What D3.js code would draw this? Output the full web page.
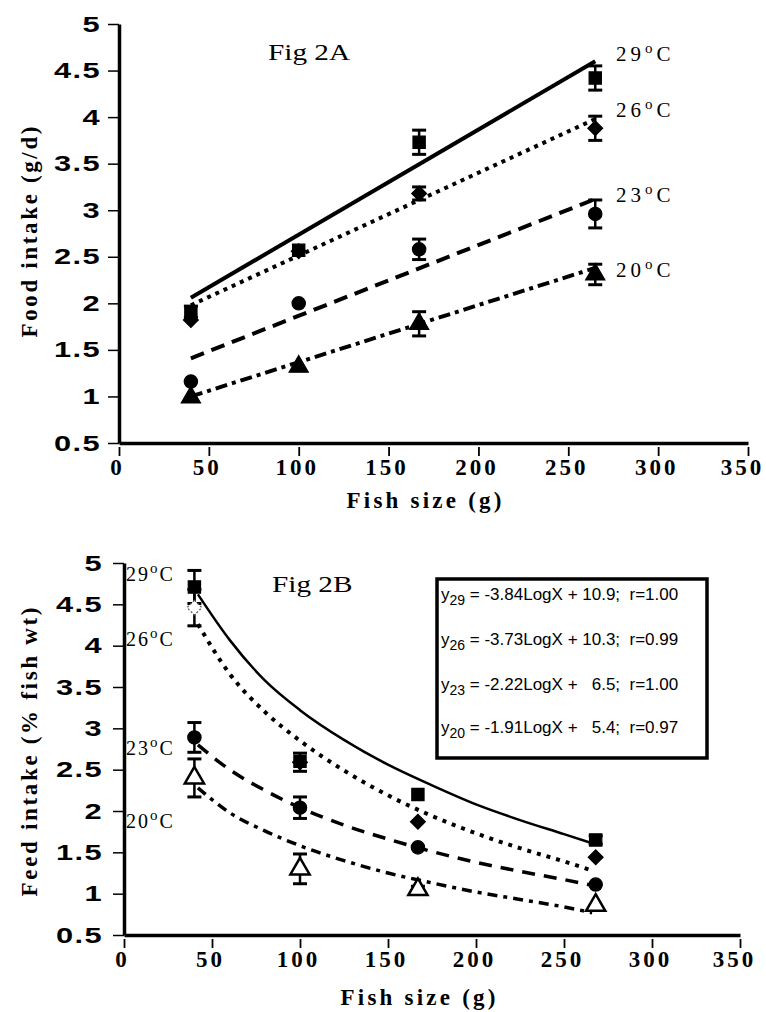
<!doctype html>
<html>
<head>
<meta charset="utf-8">
<script src="https://cdn.jsdelivr.net/npm/d3@7"></script>
<style>
    body { margin: 0; background: #fff; }
    svg { display: block; }
    .yax text { font-family: "Liberation Sans", Arial, sans-serif; font-weight: bold; font-size: 22px; letter-spacing: 1px; fill: #000; }
    .xax text { font-family: "Liberation Serif", "Times New Roman", serif; font-weight: bold; font-size: 23px; letter-spacing: 3px; fill: #000; }
    .title { font-family: "Liberation Serif", "Times New Roman", serif; font-weight: bold; font-size: 23px; }
    .fig { font-family: "Liberation Serif", "Times New Roman", serif; font-size: 24px; }
    .temp { font-family: "Liberation Serif", "Times New Roman", serif; font-size: 21px; letter-spacing: 4px; }
    .temp2 { font-family: "Liberation Serif", "Times New Roman", serif; font-size: 20px; letter-spacing: 2px; }
    .eq { font-family: "Liberation Sans", Arial, sans-serif; font-size: 17px; white-space: pre; }
</style>
</head>
<body>
<svg width="766" height="1012"></svg>
<script>
// axis ticks
var xTicks = [0, 50, 100, 150, 200, 250, 300, 350];
var yTicks = [0.5, 1, 1.5, 2, 2.5, 3, 3.5, 4, 4.5, 5];
var temps = ["29", "26", "23", "20"];

// Fig 2A - food intake (g/d), mean and error
var sizeA = [40, 100, 167, 265];
var foodA = [
    [1.91, 2.57, 3.73, 4.42],   // 29
    [1.82, 2.56, 3.18, 3.88],   // 26
    [1.16, 2.00, 2.58, 2.96],   // 23
    [0.99, 1.32, 1.78, 2.31]    // 20
];
var errA = [
    [0.06, 0, 0.13, 0.13],
    [0, 0, 0.07, 0.13],
    [0, 0, 0.11, 0.15],
    [0, 0, 0.13, 0.11]
];
// regression lines (ends)
var fitXA = [40, 265];
var fitA = [
    [2.06, 4.60],
    [1.98, 3.98],
    [1.41, 3.12],
    [1.00, 2.38]
];

// Fig 2B - feed intake (% fish wt)
var sizeB = [40, 100, 167, 268];
var feedB = [
    [4.71, 2.60, 2.20, 1.65],
    [4.46, 2.59, 1.87, 1.44],
    [2.89, 2.04, 1.56, 1.11],
    [2.40, 1.30, 1.05, 0.86]
];
var errB = [
    [0.20, 0, 0, 0.05],
    [0.22, 0.11, 0, 0],
    [0.18, 0.13, 0, 0],
    [0.23, 0.18, 0.04, 0]
];
// log curves
var fitXB = [42, 60, 80, 100, 125, 150, 175, 200, 225, 250, 266];
var fitB = [
    [4.62, 4.07, 3.58, 3.22, 2.86, 2.56, 2.31, 2.08, 1.89, 1.72, 1.61],
    [4.26, 3.66, 3.20, 2.85, 2.49, 2.19, 1.94, 1.73, 1.55, 1.39, 1.28],
    [2.80, 2.50, 2.25, 2.04, 1.83, 1.66, 1.51, 1.38, 1.27, 1.17, 1.10],
    [2.28, 1.98, 1.76, 1.58, 1.40, 1.25, 1.13, 1.02, 0.93, 0.84, 0.77]
];
var eqSub = ["29", "26", "23", "20"];
var eqRest = [" = -3.84LogX + 10.9;  r=1.00",
              " = -3.73LogX + 10.3;  r=0.99",
              " = -2.22LogX +   6.5;  r=1.00",
              " = -1.91LogX +   5.4;  r=0.97"];

var svg = d3.select("svg");

var dashes = ["none", "4,5", "14,8", "12,5,4,5"];
var shapes = [d3.symbolSquare, d3.symbolSquare, d3.symbolCircle, d3.symbolTriangle];
var symSize = [150, 110, 140, 160];

function drawAxes(x, y, yTitle, titleX, titleY, titleLen, labRight) {
    var ax = svg.append("g")
        .attr("class", "xax")
        .attr("transform", "translate(0," + y(0.5) + ")")
        .call(d3.axisBottom(x).tickValues(xTicks).tickSize(0).tickSizeOuter(0).tickPadding(16));
    // last label sits close to the page edge
    ax.selectAll(".tick text").attr("dx", function(d) { return d == 350 ? -6 : -2; });
    ax.selectAll(".tick").append("line")
        .attr("y1", 4).attr("y2", 13)
        .attr("stroke", "#000").attr("stroke-width", 1.8);
    ax.select(".domain").attr("stroke-width", 3.5);

    var ay = svg.append("g")
        .attr("class", "yax")
        .attr("transform", "translate(" + x(0) + ",0)")
        .call(d3.axisLeft(y).tickValues(yTicks).tickFormat(String).tickSize(11).tickSizeOuter(0));
    ay.select(".domain").attr("stroke-width", 3.5);
    ay.selectAll(".tick line").attr("stroke-width", 1.5);
    // the printed labels are wide, stretch them sideways
    ay.selectAll(".tick text")
        .attr("x", -labRight / 1.4)
        .attr("transform", "scale(1.4,1)");

    svg.append("text")
        .attr("class", "title")
        .attr("text-anchor", "middle")
        .attr("textLength", titleLen)
        .attr("lengthAdjust", "spacing")
        .attr("transform", "translate(" + titleX + "," + titleY + ") rotate(-90)")
        .text(yTitle);
}

function drawPoints(x, y, sizes, vals, errs, openTri) {
    vals.forEach(function(series, s) {
        var g = svg.append("g");
        // error bars
        series.forEach(function(v, i) {
            var e = errs[s][i];
            if (!e) return;
            var cx = x(sizes[i]);
            g.append("line").attr("x1", cx).attr("x2", cx)
                .attr("y1", y(v - e)).attr("y2", y(v + e))
                .attr("stroke", "#000").attr("stroke-width", 2.5);
            [v - e, v + e].forEach(function(c) {
                g.append("line").attr("x1", cx - 7).attr("x2", cx + 7)
                    .attr("y1", y(c)).attr("y2", y(c))
                    .attr("stroke", "#000").attr("stroke-width", 3);
            });
        });
        g.selectAll("path.pt")
            .data(series)
            .enter().append("path")
            .attr("class", "pt")
            .attr("d", d3.symbol().type(shapes[s]).size(symSize[s]))
            .attr("transform", function(d, i) {
                return "translate(" + x(sizes[i]) + "," + y(d) + ")" + (s == 1 ? " rotate(45)" : "");
            })
            .attr("fill", function(d, i) {
                if (s == 3 && openTri) return "#fff";
                if (s == 1 && openTri && i == 0) return "#fff";
                return "#000";
            })
            .attr("stroke", function(d, i) {
                if (s == 1 && openTri && i == 0) return "#555";
                return "#000";
            })
            .attr("stroke-dasharray", function(d, i) { return (s == 1 && openTri && i == 0) ? "2,2" : null; })
            .attr("stroke-width", (s == 3 && openTri) ? 2.5 : 1.2);
    });
}

function tempLabel(px, py, t, cls) {
    var txt = svg.append("text").attr("class", cls).attr("x", px).attr("y", py);
    txt.append("tspan").text(t);
    txt.append("tspan").attr("dy", -8).attr("font-size", 15).text("o");
    txt.append("tspan").attr("dy", 8).text("C");
}

// ---------- Fig 2A ----------
var xA = d3.scaleLinear().domain([0, 350]).range([119, 748]);
var yA = d3.scaleLinear().domain([0.5, 5]).range([443, 24]);

drawAxes(xA, yA, "Food intake (g/d)", 37, 232, 211, 18);

svg.append("text").attr("class", "fig")
    .attr("transform", "translate(268,60) scale(1.22,1)")
    .text("Fig 2A");

fitA.forEach(function(f, s) {
    svg.append("path")
        .datum(f)
        .attr("fill", "none")
        .attr("stroke", "#000")
        .attr("stroke-width", 4)
        .attr("stroke-dasharray", dashes[s] == "none" ? null : dashes[s])
        .attr("d", d3.line().x(function(d, i) { return xA(fitXA[i]); }).y(function(d) { return yA(d); }));
});

drawPoints(xA, yA, sizeA, foodA, errA, false);

var labYA = [61, 117, 202, 277];
temps.forEach(function(t, i) { tempLabel(616, labYA[i], t, "temp"); });

// ---------- Fig 2B ----------
var xB = d3.scaleLinear().domain([0, 350]).range([124, 740]);
var yB = d3.scaleLinear().domain([0.5, 5]).range([935, 563]);

drawAxes(xB, yB, "Feed intake (% fish wt)", 37, 752, 289, 21);

svg.append("text").attr("class", "fig")
    .attr("transform", "translate(272,592) scale(1.22,1)")
    .text("Fig 2B");

var bDash = ["none", "4,6", "13,9", "10,6,4,6"];
var bWidth = [2.5, 4, 3.5, 3.5];
fitB.forEach(function(f, s) {
    svg.append("path")
        .datum(f)
        .attr("fill", "none")
        .attr("stroke", "#000")
        .attr("stroke-width", bWidth[s])
        .attr("stroke-dasharray", bDash[s] == "none" ? null : bDash[s])
        .attr("d", d3.line().curve(d3.curveMonotoneX)
            .x(function(d, i) { return xB(fitXB[i]); })
            .y(function(d) { return yB(d); }));
});

drawPoints(xB, yB, sizeB, feedB, errB, true);

var labYB = [581, 646, 755, 828];
temps.forEach(function(t, i) { tempLabel(126, labYB[i], t, "temp2"); });

// equation box
svg.append("rect")
    .attr("x", 437).attr("y", 579)
    .attr("width", 270).attr("height", 179)
    .attr("fill", "#fff")
    .attr("stroke", "#000")
    .attr("stroke-width", 3.5);

var eqY = [600, 645, 690, 733];
eqSub.forEach(function(sub, i) {
    var t = svg.append("text").attr("class", "eq").attr("x", 441).attr("y", eqY[i]);
    t.append("tspan").text("y");
    t.append("tspan").attr("dy", 5).attr("font-size", 14).text(sub);
    t.append("tspan").attr("dy", -5).text(eqRest[i]);
});

// x titles
svg.append("text").attr("class", "title").attr("text-anchor", "middle")
    .attr("textLength", 155).attr("lengthAdjust", "spacing")
    .attr("x", 424).attr("y", 508).text("Fish size (g)");
svg.append("text").attr("class", "title").attr("text-anchor", "middle")
    .attr("textLength", 155).attr("lengthAdjust", "spacing")
    .attr("x", 418).attr("y", 1005).text("Fish size (g)");
</script>
</body>
</html>
